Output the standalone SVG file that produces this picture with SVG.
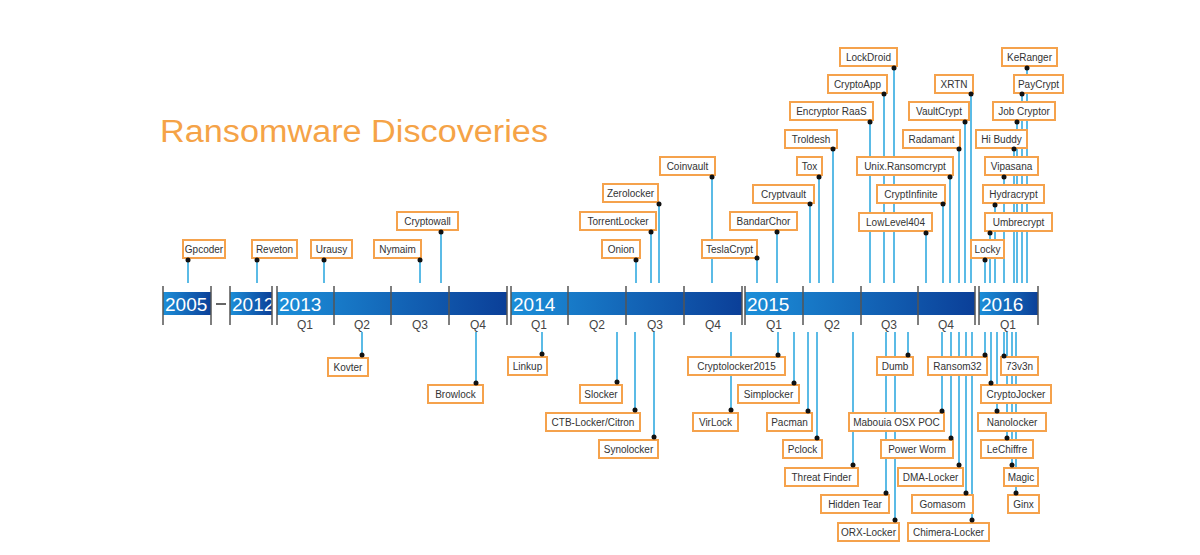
<svg xmlns="http://www.w3.org/2000/svg" width="1200" height="555" viewBox="0 0 1200 555">
<defs>
<linearGradient id="g" x1="0" x2="1" y1="0" y2="0"><stop offset="0" stop-color="#1c8fd9"/><stop offset="1" stop-color="#0b3f98"/></linearGradient>
<style>
.b{fill:#fff;stroke:#f5a24c;stroke-width:2}
.t{font-family:"Liberation Sans",Arial,sans-serif;font-size:10px;fill:#333;text-anchor:middle}
.c line{stroke:#5bbbe6;stroke-width:2}
.d{fill:#111}
.tk{stroke:#555;stroke-width:1.5}
.y{font-family:"Liberation Sans",Arial,sans-serif;font-size:19px;fill:#fff}
.q{font-family:"Liberation Sans",Arial,sans-serif;font-size:12px;fill:#444;text-anchor:middle}
</style>
</defs>
<rect width="1200" height="555" fill="#fff"/>
<text x="160" y="142" font-family="Liberation Sans,Arial,sans-serif" font-size="31" fill="#f5a347" textLength="388" lengthAdjust="spacingAndGlyphs">Ransomware Discoveries</text>
<g id="timeline">
<rect x="163" y="292" width="48" height="23" fill="url(#g)"/>
<rect x="230" y="292" width="42" height="23" fill="url(#g)"/>
<rect x="277" y="292" width="230" height="23" fill="url(#g)"/>
<rect x="511" y="292" width="231" height="23" fill="url(#g)"/>
<rect x="745" y="292" width="230" height="23" fill="url(#g)"/>
<rect x="979" y="292" width="59" height="23" fill="url(#g)"/>
<line x1="216" y1="304" x2="226" y2="304" stroke="#333" stroke-width="1.5"/>
<text class="y" x="165" y="311">2005</text><text class="y" x="232" y="311">2012</text><text class="y" x="279" y="311">2013</text><text class="y" x="513" y="311">2014</text><text class="y" x="747" y="311">2015</text><text class="y" x="981" y="311">2016</text>
<g class="tk">
<line x1="163" y1="286" x2="163" y2="325"/><line x1="211" y1="286" x2="211" y2="325"/><line x1="230" y1="286" x2="230" y2="325"/><line x1="272" y1="286" x2="272" y2="325"/>
<line x1="277" y1="286" x2="277" y2="325"/><line x1="334" y1="286" x2="334" y2="325"/><line x1="391" y1="286" x2="391" y2="325"/><line x1="449" y1="286" x2="449" y2="325"/><line x1="507" y1="286" x2="507" y2="325"/>
<line x1="511" y1="286" x2="511" y2="325"/><line x1="568" y1="286" x2="568" y2="325"/><line x1="626" y1="286" x2="626" y2="325"/><line x1="684" y1="286" x2="684" y2="325"/><line x1="742" y1="286" x2="742" y2="325"/>
<line x1="745" y1="286" x2="745" y2="325"/><line x1="803" y1="286" x2="803" y2="325"/><line x1="861" y1="286" x2="861" y2="325"/><line x1="918" y1="286" x2="918" y2="325"/><line x1="975" y1="286" x2="975" y2="325"/>
<line x1="979" y1="286" x2="979" y2="325"/><line x1="1038" y1="286" x2="1038" y2="325"/>
</g>
<text class="q" x="305" y="329">Q1</text><text class="q" x="362" y="329">Q2</text><text class="q" x="420" y="329">Q3</text><text class="q" x="478" y="329">Q4</text>
<text class="q" x="539" y="329">Q1</text><text class="q" x="597" y="329">Q2</text><text class="q" x="655" y="329">Q3</text><text class="q" x="713" y="329">Q4</text>
<text class="q" x="774" y="329">Q1</text><text class="q" x="832" y="329">Q2</text><text class="q" x="889" y="329">Q3</text><text class="q" x="946" y="329">Q4</text>
<text class="q" x="1008" y="329">Q1</text>
</g>
<g id="connectors" class="c">
<line x1="188" y1="260" x2="188" y2="283"/><line x1="257" y1="260" x2="257" y2="283"/><line x1="324" y1="260" x2="324" y2="283"/><line x1="420" y1="260" x2="420" y2="283"/><line x1="441" y1="232" x2="441" y2="283"/>
<line x1="636" y1="260" x2="636" y2="283"/><line x1="651" y1="232" x2="651" y2="283"/><line x1="659" y1="204" x2="659" y2="283"/><line x1="712" y1="177" x2="712" y2="283"/><line x1="757" y1="258" x2="757" y2="283"/>
<line x1="777" y1="232" x2="777" y2="283"/><line x1="810" y1="204" x2="810" y2="283"/><line x1="819" y1="177" x2="819" y2="283"/><line x1="833" y1="149" x2="833" y2="283"/><line x1="870" y1="122" x2="870" y2="283"/><line x1="884" y1="94" x2="884" y2="283"/><line x1="894" y1="68" x2="894" y2="283"/>
<line x1="950" y1="177" x2="950" y2="283"/><line x1="943" y1="204" x2="943" y2="283"/><line x1="926" y1="233" x2="926" y2="283"/><line x1="959" y1="149" x2="959" y2="283"/><line x1="965" y1="122" x2="965" y2="283"/><line x1="971" y1="94" x2="971" y2="283"/>
<line x1="985" y1="260" x2="985" y2="283"/><line x1="990" y1="233" x2="990" y2="283"/><line x1="995" y1="205" x2="995" y2="283"/><line x1="1004" y1="177" x2="1004" y2="283"/><line x1="1014" y1="149" x2="1014" y2="283"/><line x1="1017" y1="122" x2="1017" y2="283"/><line x1="1022" y1="94" x2="1022" y2="283"/><line x1="1027" y1="68" x2="1027" y2="283"/>
<line x1="362" y1="332" x2="362" y2="355"/><line x1="476" y1="332" x2="476" y2="383"/><line x1="542" y1="332" x2="542" y2="354"/><line x1="617" y1="332" x2="617" y2="382"/><line x1="635" y1="332" x2="635" y2="410"/><line x1="654" y1="332" x2="654" y2="437"/>
<line x1="731" y1="332" x2="731" y2="410"/><line x1="778" y1="332" x2="778" y2="355"/><line x1="794" y1="332" x2="794" y2="383"/><line x1="808" y1="332" x2="808" y2="411"/><line x1="817" y1="332" x2="817" y2="438"/><line x1="853" y1="332" x2="853" y2="465"/>
<line x1="886" y1="332" x2="886" y2="493"/><line x1="895" y1="332" x2="895" y2="520"/><line x1="908" y1="332" x2="908" y2="355"/><line x1="942" y1="332" x2="942" y2="411"/><line x1="951" y1="332" x2="951" y2="438"/><line x1="959" y1="332" x2="959" y2="465"/><line x1="966" y1="332" x2="966" y2="493"/><line x1="972" y1="332" x2="972" y2="520"/>
<line x1="985" y1="332" x2="985" y2="355"/><line x1="1004" y1="332" x2="1004" y2="356"/><line x1="991" y1="332" x2="991" y2="383"/><line x1="997" y1="332" x2="997" y2="411"/><line x1="1007" y1="332" x2="1007" y2="438"/><line x1="1012" y1="332" x2="1012" y2="465"/><line x1="1016" y1="332" x2="1016" y2="493"/>
</g>
<g id="gpcoder"><rect class="b" x="183" y="240" width="42" height="18"/><text class="t" x="204" y="253">Gpcoder</text><circle class="d" cx="188" cy="260" r="2.5"/></g>
<g id="reveton"><rect class="b" x="252" y="240" width="45" height="18"/><text class="t" x="274.5" y="253">Reveton</text><circle class="d" cx="257" cy="260" r="2.5"/></g>
<g id="urausy"><rect class="b" x="311" y="240" width="41" height="18"/><text class="t" x="331.5" y="253">Urausy</text><circle class="d" cx="324" cy="260" r="2.5"/></g>
<g id="nymaim"><rect class="b" x="374" y="240" width="47" height="18"/><text class="t" x="397.5" y="253">Nymaim</text><circle class="d" cx="420" cy="260" r="2.5"/></g>
<g id="cryptowall"><rect class="b" x="397" y="212" width="61" height="18"/><text class="t" x="427.5" y="225">Cryptowall</text><circle class="d" cx="441" cy="232" r="2.5"/></g>
<g id="onion"><rect class="b" x="602" y="240" width="38" height="18"/><text class="t" x="621" y="253">Onion</text><circle class="d" cx="636" cy="260" r="2.5"/></g>
<g id="torrentlocker"><rect class="b" x="580" y="212" width="76" height="18"/><text class="t" x="618" y="225">TorrentLocker</text><circle class="d" cx="651" cy="232" r="2.5"/></g>
<g id="zerolocker"><rect class="b" x="603" y="184" width="55" height="18"/><text class="t" x="630.5" y="197">Zerolocker</text><circle class="d" cx="659" cy="204" r="2.5"/></g>
<g id="coinvault"><rect class="b" x="660" y="157" width="55" height="18"/><text class="t" x="687.5" y="170">Coinvault</text><circle class="d" cx="712" cy="177" r="2.5"/></g>
<g id="teslacrypt"><rect class="b" x="702" y="240" width="55" height="18"/><text class="t" x="729.5" y="253">TeslaCrypt</text><circle class="d" cx="757" cy="258" r="2.5"/></g>
<g id="bandarchor"><rect class="b" x="730" y="212" width="67" height="18"/><text class="t" x="763.5" y="225">BandarChor</text><circle class="d" cx="777" cy="232" r="2.5"/></g>
<g id="cryptvault"><rect class="b" x="753" y="185" width="61" height="18"/><text class="t" x="783.5" y="198">Cryptvault</text><circle class="d" cx="810" cy="204" r="2.5"/></g>
<g id="tox"><rect class="b" x="797" y="157" width="25" height="18"/><text class="t" x="809.5" y="170">Tox</text><circle class="d" cx="819" cy="177" r="2.5"/></g>
<g id="troldesh"><rect class="b" x="785" y="130" width="52" height="18"/><text class="t" x="811" y="143">Troldesh</text><circle class="d" cx="833" cy="149" r="2.5"/></g>
<g id="encryptor"><rect class="b" x="790" y="102" width="83" height="18"/><text class="t" x="831.5" y="115">Encryptor RaaS</text><circle class="d" cx="870" cy="122" r="2.5"/></g>
<g id="cryptoapp"><rect class="b" x="828" y="75" width="59" height="18"/><text class="t" x="857.5" y="88">CryptoApp</text><circle class="d" cx="884" cy="94" r="2.5"/></g>
<g id="lockdroid"><rect class="b" x="840" y="48" width="57" height="18"/><text class="t" x="868.5" y="61">LockDroid</text><circle class="d" cx="894" cy="68" r="2.5"/></g>
<g id="unix"><rect class="b" x="857" y="157" width="96" height="18"/><text class="t" x="905" y="170">Unix.Ransomcrypt</text><circle class="d" cx="950" cy="177" r="2.5"/></g>
<g id="cryptinfinite"><rect class="b" x="877" y="185" width="68" height="18"/><text class="t" x="911" y="198">CryptInfinite</text><circle class="d" cx="943" cy="204" r="2.5"/></g>
<g id="lowlevel"><rect class="b" x="859" y="213" width="73" height="18"/><text class="t" x="895.5" y="226">LowLevel404</text><circle class="d" cx="926" cy="233" r="2.5"/></g>
<g id="radamant"><rect class="b" x="903" y="130" width="57" height="18"/><text class="t" x="931.5" y="143">Radamant</text><circle class="d" cx="959" cy="149" r="2.5"/></g>
<g id="vaultcrypt"><rect class="b" x="909" y="102" width="60" height="18"/><text class="t" x="939" y="115">VaultCrypt</text><circle class="d" cx="965" cy="122" r="2.5"/></g>
<g id="xrtn"><rect class="b" x="935" y="75" width="38" height="18"/><text class="t" x="954" y="88">XRTN</text><circle class="d" cx="971" cy="94" r="2.5"/></g>
<g id="locky"><rect class="b" x="971" y="240" width="33" height="18"/><text class="t" x="987.5" y="253">Locky</text><circle class="d" cx="985" cy="260" r="2.5"/></g>
<g id="umbrecrypt"><rect class="b" x="985" y="213" width="67" height="18"/><text class="t" x="1018.5" y="226">Umbrecrypt</text><circle class="d" cx="990" cy="233" r="2.5"/></g>
<g id="hydracrypt"><rect class="b" x="983" y="185" width="61" height="18"/><text class="t" x="1013.5" y="198">Hydracrypt</text><circle class="d" cx="995" cy="205" r="2.5"/></g>
<g id="vipasana"><rect class="b" x="985" y="157" width="53" height="18"/><text class="t" x="1011.5" y="170">Vipasana</text><circle class="d" cx="1004" cy="177" r="2.5"/></g>
<g id="hibuddy"><rect class="b" x="976" y="130" width="51" height="18"/><text class="t" x="1001.5" y="143">Hi Buddy</text><circle class="d" cx="1014" cy="149" r="2.5"/></g>
<g id="jobcryptor"><rect class="b" x="993" y="102" width="62" height="18"/><text class="t" x="1024" y="115">Job Cryptor</text><circle class="d" cx="1017" cy="122" r="2.5"/></g>
<g id="paycrypt"><rect class="b" x="1014" y="75" width="49" height="18"/><text class="t" x="1038.5" y="88">PayCrypt</text><circle class="d" cx="1022" cy="94" r="2.5"/></g>
<g id="keranger"><rect class="b" x="1002" y="48" width="55" height="18"/><text class="t" x="1029.5" y="61">KeRanger</text><circle class="d" cx="1027" cy="68" r="2.5"/></g>
<g id="kovter"><rect class="b" x="328" y="358" width="40" height="18"/><text class="t" x="348" y="371">Kovter</text><circle class="d" cx="362" cy="355" r="2.5"/></g>
<g id="browlock"><rect class="b" x="428" y="385" width="55" height="18"/><text class="t" x="455.5" y="398">Browlock</text><circle class="d" cx="476" cy="383" r="2.5"/></g>
<g id="linkup"><rect class="b" x="508" y="357" width="39" height="18"/><text class="t" x="527.5" y="370">Linkup</text><circle class="d" cx="542" cy="354" r="2.5"/></g>
<g id="slocker"><rect class="b" x="580" y="385" width="42" height="18"/><text class="t" x="601" y="398">Slocker</text><circle class="d" cx="617" cy="382" r="2.5"/></g>
<g id="ctb"><rect class="b" x="546" y="413" width="94" height="18"/><text class="t" x="593" y="426">CTB-Locker/Citron</text><circle class="d" cx="635" cy="410" r="2.5"/></g>
<g id="synolocker"><rect class="b" x="599" y="440" width="59" height="18"/><text class="t" x="628.5" y="453">Synolocker</text><circle class="d" cx="654" cy="437" r="2.5"/></g>
<g id="virlock"><rect class="b" x="693" y="413" width="45" height="18"/><text class="t" x="715.5" y="426">VirLock</text><circle class="d" cx="731" cy="410" r="2.5"/></g>
<g id="cryptolocker2015"><rect class="b" x="688" y="357" width="97" height="18"/><text class="t" x="736.5" y="370">Cryptolocker2015</text><circle class="d" cx="778" cy="355" r="2.5"/></g>
<g id="simplocker"><rect class="b" x="738" y="385" width="61" height="18"/><text class="t" x="768.5" y="398">Simplocker</text><circle class="d" cx="794" cy="383" r="2.5"/></g>
<g id="pacman"><rect class="b" x="767" y="413" width="45" height="18"/><text class="t" x="789.5" y="426">Pacman</text><circle class="d" cx="808" cy="411" r="2.5"/></g>
<g id="pclock"><rect class="b" x="783" y="440" width="39" height="18"/><text class="t" x="802.5" y="453">Pclock</text><circle class="d" cx="817" cy="438" r="2.5"/></g>
<g id="threatfinder"><rect class="b" x="785" y="468" width="73" height="18"/><text class="t" x="821.5" y="481">Threat Finder</text><circle class="d" cx="853" cy="465" r="2.5"/></g>
<g id="hiddentear"><rect class="b" x="821" y="495" width="68" height="18"/><text class="t" x="855" y="508">Hidden Tear</text><circle class="d" cx="886" cy="493" r="2.5"/></g>
<g id="orx"><rect class="b" x="838" y="523" width="61" height="18"/><text class="t" x="868.5" y="536">ORX-Locker</text><circle class="d" cx="895" cy="520" r="2.5"/></g>
<g id="dumb"><rect class="b" x="877" y="357" width="36" height="18"/><text class="t" x="895" y="370">Dumb</text><circle class="d" cx="908" cy="355" r="2.5"/></g>
<g id="mabouia"><rect class="b" x="849" y="413" width="95" height="18"/><text class="t" x="896.5" y="426">Mabouia OSX POC</text><circle class="d" cx="942" cy="411" r="2.5"/></g>
<g id="powerworm"><rect class="b" x="881" y="440" width="72" height="18"/><text class="t" x="917" y="453">Power Worm</text><circle class="d" cx="951" cy="438" r="2.5"/></g>
<g id="dma"><rect class="b" x="898" y="468" width="65" height="18"/><text class="t" x="930.5" y="481">DMA-Locker</text><circle class="d" cx="959" cy="465" r="2.5"/></g>
<g id="gomasom"><rect class="b" x="912" y="495" width="61" height="18"/><text class="t" x="942.5" y="508">Gomasom</text><circle class="d" cx="966" cy="493" r="2.5"/></g>
<g id="chimera"><rect class="b" x="908" y="523" width="81" height="18"/><text class="t" x="948.5" y="536">Chimera-Locker</text><circle class="d" cx="972" cy="520" r="2.5"/></g>
<g id="ransom32"><rect class="b" x="928" y="357" width="59" height="18"/><text class="t" x="957.5" y="370">Ransom32</text><circle class="d" cx="985" cy="355" r="2.5"/></g>
<g id="73v3n"><rect class="b" x="1001" y="357" width="37" height="18"/><text class="t" x="1019.5" y="370">73v3n</text><circle class="d" cx="1004" cy="356" r="2.5"/></g>
<g id="cryptojocker"><rect class="b" x="981" y="385" width="70" height="18"/><text class="t" x="1016" y="398">CryptoJocker</text><circle class="d" cx="991" cy="383" r="2.5"/></g>
<g id="nanolocker"><rect class="b" x="978" y="413" width="68" height="18"/><text class="t" x="1012" y="426">Nanolocker</text><circle class="d" cx="997" cy="411" r="2.5"/></g>
<g id="lechiffre"><rect class="b" x="981" y="440" width="52" height="18"/><text class="t" x="1007" y="453">LeChiffre</text><circle class="d" cx="1007" cy="438" r="2.5"/></g>
<g id="magic"><rect class="b" x="1004" y="468" width="34" height="18"/><text class="t" x="1021" y="481">Magic</text><circle class="d" cx="1012" cy="465" r="2.5"/></g>
<g id="ginx"><rect class="b" x="1008" y="495" width="31" height="18"/><text class="t" x="1023.5" y="508">Ginx</text><circle class="d" cx="1016" cy="493" r="2.5"/></g>
</svg>
